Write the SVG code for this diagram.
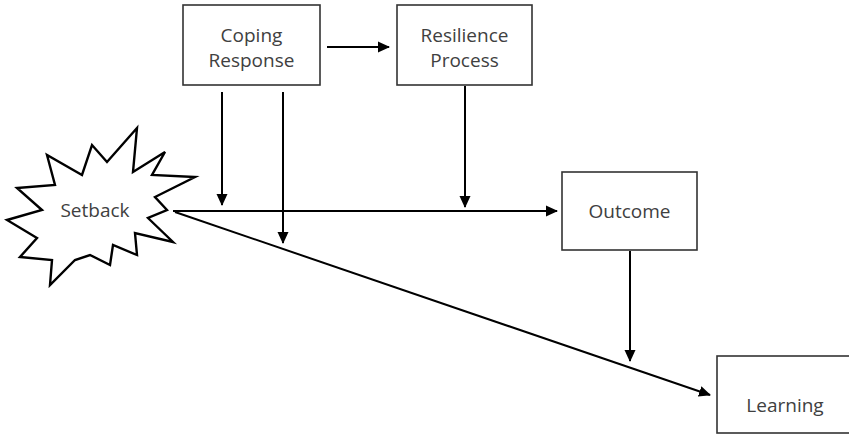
<svg xmlns="http://www.w3.org/2000/svg" width="849" height="435" viewBox="0 0 849 435">
<style>
.box{fill:#fff;stroke:#333;stroke-width:1.6}
.burst{fill:#fff;stroke:#000;stroke-width:2.4;stroke-linejoin:miter}
.lbl{font-family:"Open Sans","Liberation Sans",sans-serif;font-size:19px;fill:#404040;text-anchor:middle}
.ln{stroke:#000;stroke-width:2;fill:none}
</style>
<defs>
<marker id="ah" markerWidth="12" markerHeight="12" refX="11" refY="6" orient="auto" markerUnits="userSpaceOnUse" viewBox="0 0 12 12">
<path d="M0,0.5 L12,6 L0,11.5 z" fill="#000"/>
</marker>
</defs>
<rect width="849" height="435" fill="#fff"/>
<g id="setback">
<polygon class="burst" points="137,128 133,172 165,152 152,175 195,177 155,197 167,210 148,218 173,242 135,233 137,255 113,245 110,265 90,255 75,260 50,285 52,260 20,257 37,238 7,220 42,210 17,188 55,185 47,155 82,175 92,145 107,162"/>
<text class="lbl" x="95" y="217">Setback</text>
</g>
<g id="coping">
<rect class="box" x="183" y="5" width="137" height="80"/>
<text class="lbl" x="251.5" y="41.5">Coping</text>
<text class="lbl" x="251.5" y="67">Response</text>
</g>
<g id="resilience">
<rect class="box" x="397" y="5" width="135" height="80"/>
<text class="lbl" x="464.5" y="41.5">Resilience</text>
<text class="lbl" x="464.5" y="67">Process</text>
</g>
<g id="outcome">
<rect class="box" x="562" y="172" width="135" height="78"/>
<text class="lbl" x="629.5" y="218">Outcome</text>
</g>
<g id="learning">
<rect class="box" x="717" y="356" width="140" height="77"/>
<text class="lbl" x="785" y="412">Learning</text>
</g>
<g id="connectors">
<line class="ln" x1="327" y1="47" x2="389" y2="47" marker-end="url(#ah)"/>
<line class="ln" x1="173" y1="211" x2="557" y2="211" marker-end="url(#ah)"/>
<line class="ln" x1="175" y1="212" x2="710" y2="395" marker-end="url(#ah)"/>
<line class="ln" x1="222" y1="92" x2="222" y2="205" marker-end="url(#ah)"/>
<line class="ln" x1="283" y1="92" x2="283" y2="243" marker-end="url(#ah)"/>
<line class="ln" x1="465" y1="86" x2="465" y2="207" marker-end="url(#ah)"/>
<line class="ln" x1="630" y1="251" x2="630" y2="361" marker-end="url(#ah)"/>
</g>
</svg>
